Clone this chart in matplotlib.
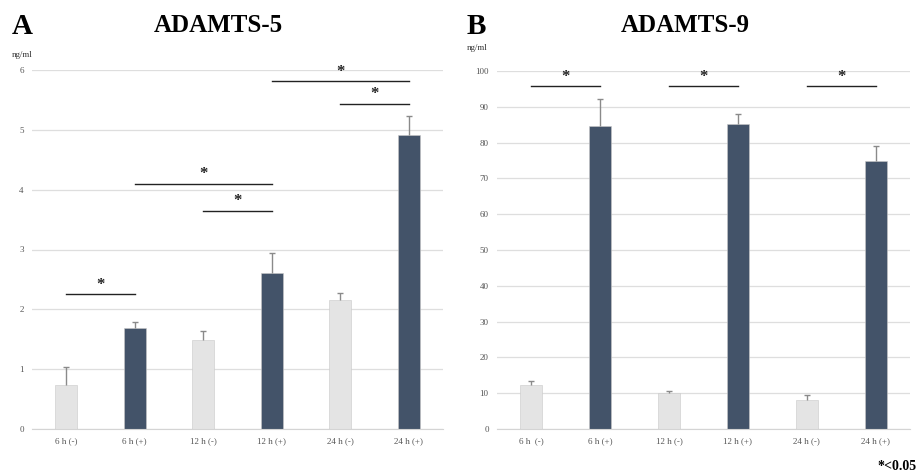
import matplotlib.pyplot as plt
import numpy as np

plt.rcParams['font.family'] = ['Liberation Serif', 'DejaVu Serif']

labels_a = ['6 h (-)', '6 h (+)', '12 h (-)', '12 h (+)', '24 h (-)', '24 h (+)']
labels_b = ['6 h  (-)', '6 h (+)', '12 h (-)', '12 h (+)', '24 h (-)', '24 h (+)']
vals_a = [0.74, 1.68, 1.48, 2.61, 2.16, 4.92]
errs_a = [0.30, 0.10, 0.15, 0.33, 0.11, 0.31]
vals_b = [12.2, 84.6, 10.0, 85.2, 8.2, 75.0]
errs_b = [1.3, 7.6, 0.7, 2.9, 1.4, 4.1]
# (start bar, end bar, height)
sig_a = [(0, 1, 2.26), (1, 3, 4.10), (2, 3, 3.65), (3, 5, 5.82), (4, 5, 5.44)]
sig_b = [(0, 1, 95.8), (2, 3, 95.8), (4, 5, 95.8)]

light = '#e4e4e4'
dark = '#435369'
colors = [light, dark] * 3

fig = plt.figure(figsize=(9.19, 4.76), dpi=100)
ax1 = fig.add_axes([32 / 919, 1 - 429 / 476, 411 / 919, 359 / 476])
ax2 = fig.add_axes([497 / 919, 1 - 429 / 476, 413 / 919, 358 / 476])


def draw(ax, vals, errs, labels, sigs, ymax, step, star_off):
    x = np.arange(len(vals))
    vals = np.array(vals)
    tops = vals + np.array(errs)
    ax.bar(x, vals, width=0.32, color=colors, edgecolor='#c8c8c8', linewidth=0.4, zorder=2)
    # upper error bars only
    ax.vlines(x, vals, tops, color='#8a8a8a', linewidth=1, zorder=3)
    ax.plot(x, tops, linestyle='none', marker='_', markersize=5,
            markeredgewidth=1, color='#8a8a8a', zorder=3)
    ax.set_xlim(-0.5, len(vals) - 0.5)
    ax.set_ylim(0, ymax)
    ax.set_yticks(np.arange(0, ymax + step / 2, step))
    ax.set_xticks(x)
    ax.set_xticklabels(labels)
    ax.grid(axis='y', color='#dedede', linewidth=0.9, zorder=0)
    ax.set_axisbelow(True)
    for s in ['top', 'right', 'left']:
        ax.spines[s].set_visible(False)
    ax.spines['bottom'].set_color('#d4d4d4')
    ax.tick_params(axis='both', length=0, labelsize=6.5, colors='#555555', pad=6)
    for a, b, h in sigs:
        ax.plot([a, b], [h, h], color='#222222', linewidth=1, zorder=4)
        ax.text((a + b) / 2, h + star_off, '*', ha='center', va='bottom',
                fontsize=12, fontweight='bold', color='#222222')


draw(ax1, vals_a, errs_a, labels_a, sig_a, 6, 1, 0.02)
draw(ax2, vals_b, errs_b, labels_b, sig_b, 100, 10, 0.3)

fig.text(12 / 919, 1 - 27 / 476, 'A', fontsize=21, fontweight='bold', va='center')
fig.text(218 / 919, 1 - 25 / 476, 'ADAMTS-5', fontsize=18, fontweight='bold', ha='center', va='center')
fig.text(467 / 919, 1 - 27 / 476, 'B', fontsize=21, fontweight='bold', va='center')
fig.text(685 / 919, 1 - 25 / 476, 'ADAMTS-9', fontsize=18, fontweight='bold', ha='center', va='center')
fig.text(12 / 919, 1 - 55 / 476, 'ng/ml', fontsize=6.5, color='#333333', va='center')
fig.text(467 / 919, 1 - 48 / 476, 'ng/ml', fontsize=6.5, color='#333333', va='center')
fig.text(917 / 919, 1 - 466 / 476, '*<0.05', fontsize=10, fontweight='bold', ha='right', va='center')

fig.savefig('out.png', dpi=100)
